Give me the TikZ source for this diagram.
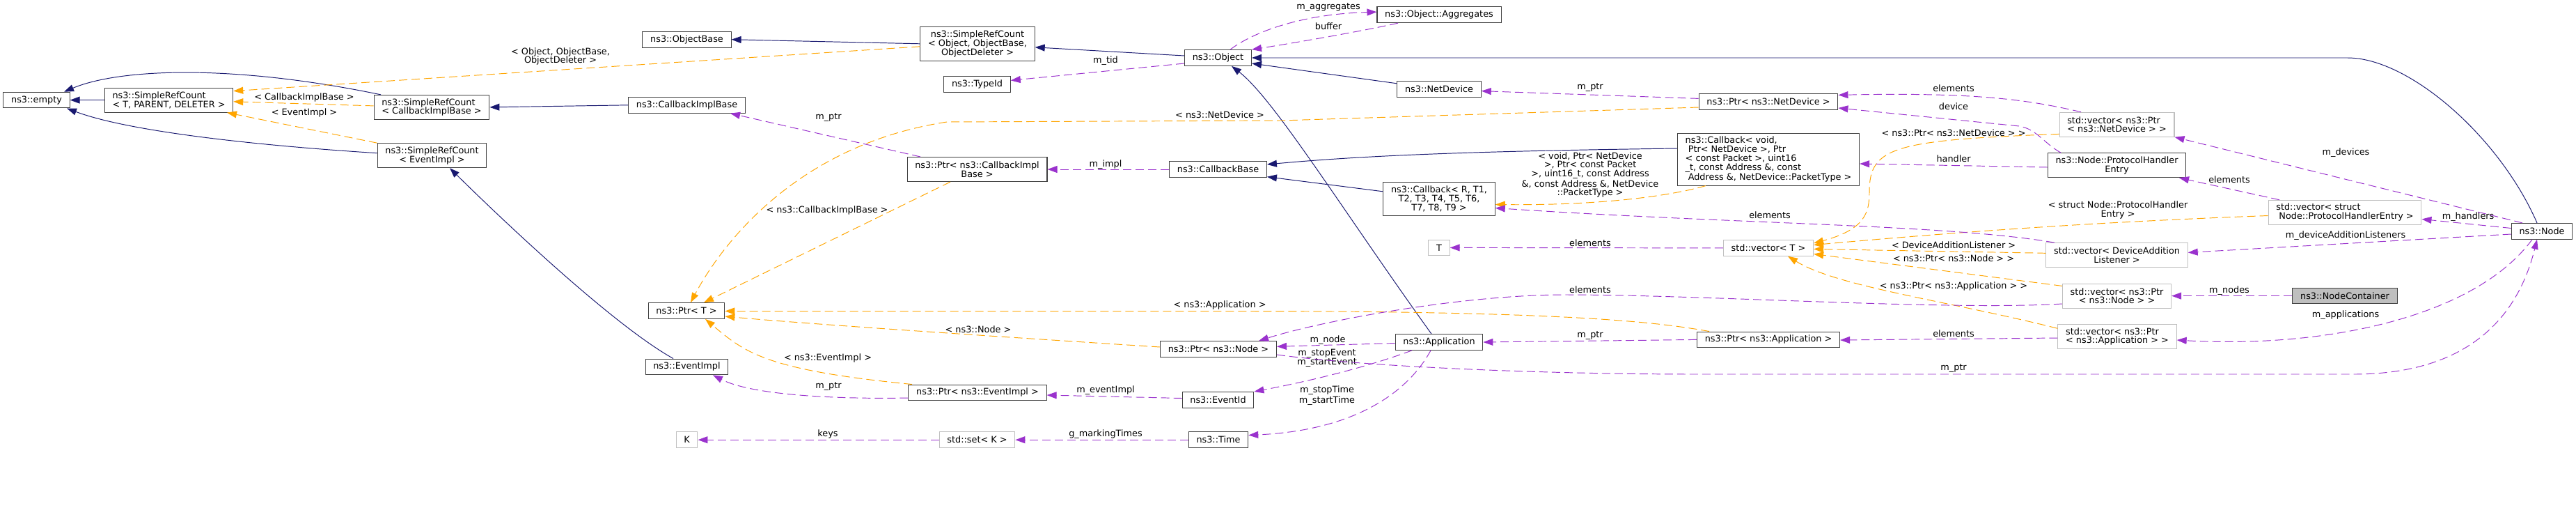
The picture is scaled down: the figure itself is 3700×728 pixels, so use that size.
\documentclass[tikz,border=0pt]{standalone}
\usepackage{fontspec}
\setmainfont{DejaVu Sans}
\usepackage{xcolor}
\usepackage{tikz}
\usetikzlibrary{arrows.meta}
\definecolor{inhblue}{HTML}{191970}
\definecolor{tplorange}{HTML}{FFA500}
\definecolor{usepurple}{HTML}{9A32CD}
\definecolor{boxgray}{HTML}{BFBFBF}
\definecolor{boxline}{HTML}{404040}
\newcommand{\dgfont}{\fontsize{7.3}{7.25}\selectfont}
\tikzset{
  klass/.style={rectangle, draw=boxline, fill=white, line width=0.6pt, font=\dgfont, inner xsep=6.4pt, inner ysep=1pt, minimum height=0.454cm, align=center},
  extklass/.style={klass, draw=boxgray},
  focus/.style={klass, fill=boxgray},
  two/.style={minimum height=0.70cm},
  three/.style={minimum height=0.97cm},
  five/.style={minimum height=1.49cm},
  edgelbl/.style={font=\dgfont, inner sep=0pt, align=center},
  inherit/.style={-{Triangle[length=0.28cm, width=0.2cm]}, draw=inhblue, line width=0.55pt},
  instance/.style={inherit, draw=tplorange, dash pattern=on 0.24cm off 0.12cm},
  member/.style={inherit, draw=usepurple, dash pattern=on 0.24cm off 0.12cm},
}
\begin{document}
\begin{tikzpicture}[x=0.02cm, y=-0.02cm]
\useasboundingbox (0,0) rectangle (3700,728);
\node[klass] (empty) at (52.5,143.6) {ns3::empty};
\node[klass, two, align=left] (srcTPD) at (242.5,143.6) {ns3::SimpleRefCount\\< T, PARENT, DELETER >};
\node[klass, two, align=left] (srcCBI) at (620,153.9) {ns3::SimpleRefCount\\< CallbackImplBase >};
\node[klass, two] (srcEI) at (620.5,223.2) {ns3::SimpleRefCount\\< EventImpl >};
\node[klass] (objbase) at (986.5,56.7) {ns3::ObjectBase};
\node[klass] (cbib) at (986.5,150.8) {ns3::CallbackImplBase};
\node[klass] (ptrT) at (986,446) {ns3::Ptr< T >};
\node[klass] (eventimpl) at (986.5,526.4) {ns3::EventImpl};
\node[extklass] (K) at (986.5,631.2) {K};
\node[klass, three] (srcObj) at (1404,62.8) {ns3::SimpleRefCount\\< Object, ObjectBase,\\ObjectDeleter >};
\node[klass] (typeid) at (1403.5,121) {ns3::TypeId};
\node[klass, two] (ptrCBI) at (1403.5,243) {ns3::Ptr< ns3::CallbackImpl\\Base >};
\node[klass] (ptrEI) at (1404,563.4) {ns3::Ptr< ns3::EventImpl >};
\node[extklass] (stdset) at (1403.5,631.2) {std::set< K >};
\node[klass] (object) at (1749.5,83) {ns3::Object};
\node[klass] (cbbase) at (1749.5,243) {ns3::CallbackBase};
\node[klass] (ptrNode) at (1750,501) {ns3::Ptr< ns3::Node >};
\node[klass] (eventid) at (1749.5,574) {ns3::EventId};
\node[klass] (time) at (1750,631.2) {ns3::Time};
\node[klass] (aggr) at (2067,21.3) {ns3::Object::Aggregates};
\node[klass] (netdev) at (2067,128) {ns3::NetDevice};
\node[klass, three] (cbR) at (2067,285.5) {ns3::Callback< R, T1,\\T2, T3, T4, T5, T6,\\T7, T8, T9 >};
\node[extklass] (T) at (2067,355.4) {T};
\node[klass] (app) at (2067,491) {ns3::Application};
\node[klass] (ptrND) at (2540,145.8) {ns3::Ptr< ns3::NetDevice >};
\node[klass, five, align=left] (cbVoid) at (2540,228.8) {ns3::Callback< void,\\\ Ptr< NetDevice >, Ptr\\< const Packet >, uint16\\\_t, const Address \&, const\\\ Address \&, NetDevice::PacketType >};
\node[extklass] (vecT) at (2540,355.9) {std::vector< T >};
\node[klass] (ptrApp) at (2540,487.4) {ns3::Ptr< ns3::Application >};
\node[extklass, two, align=left] (vecND) at (3040.5,178.7) {std::vector< ns3::Ptr\\< ns3::NetDevice > >};
\node[klass, two] (phe) at (3040.5,237.2) {ns3::Node::ProtocolHandler\\Entry};
\node[extklass, two] (vecDAL) at (3040.5,366.2) {std::vector< DeviceAddition\\Listener >};
\node[extklass, two] (vecNode) at (3040.5,424.6) {std::vector< ns3::Ptr\\< ns3::Node > >};
\node[extklass, two, align=left] (vecApp) at (3041,483) {std::vector< ns3::Ptr\\< ns3::Application > >};
\node[extklass, two, align=left] (vecPHE) at (3368,304.8) {std::vector< struct\\\ Node::ProtocolHandlerEntry >};
\node[klass] (node) at (3651,331.8) {ns3::Node};
\node[focus] (nodecont) at (3368,424.6) {ns3::NodeContainer};

\node[edgelbl] (lObj) at (805,81) {< Object, ObjectBase,\\ObjectDeleter >};
\node[edgelbl] (lCBI) at (437,139.7) {< CallbackImplBase >};
\node[edgelbl] (lEI) at (437,162) {< EventImpl >};
\node[edgelbl] (lPtrCBIB) at (1190,168) {m\_ptr};
\node[edgelbl] (lTplCBI) at (1188,301.7) {< ns3::CallbackImplBase >};
\node[edgelbl] (lTplEI) at (1189,514.3) {< ns3::EventImpl >};
\node[edgelbl] (lPtrEI) at (1190,554.8) {m\_ptr};
\node[edgelbl] (lKeys) at (1189,623) {keys};
\node[edgelbl] (lTid) at (1588,87) {m\_tid};
\node[edgelbl] (lTplND) at (1752,165) {< ns3::NetDevice >};
\node[edgelbl] (lImpl) at (1588,236) {m\_impl};
\node[edgelbl] (lTplApp) at (1752,438.4) {< ns3::Application >};
\node[edgelbl] (lTplNode) at (1405,472.3) {< ns3::Node >};
\node[edgelbl] (lEvImpl) at (1588,559.8) {m\_eventImpl};
\node[edgelbl] (lMark) at (1588,623) {g\_markingTimes};
\node[edgelbl] (lAggr) at (1908,10.1) {m\_aggregates};
\node[edgelbl] (lBuf) at (1908,37.5) {buffer};
\node[edgelbl] (lPtrND) at (2284,125.5) {m\_ptr};
\node[edgelbl] (lTplCB) at (2284,251) {< void, Ptr< NetDevice\\>, Ptr< const Packet\\>, uint16\_t, const Address\\\&, const Address \&, NetDevice\\::PacketType >};
\node[edgelbl] (lElT) at (2284,348.3) {elements};
\node[edgelbl] (lElNode) at (2284,416) {elements};
\node[edgelbl] (lPtrApp) at (2284,481.4) {m\_ptr};
\node[edgelbl] (lNode) at (1907,488) {m\_node};
\node[edgelbl] (lEvent) at (1906,513.8) {m\_stopEvent\\m\_startEvent};
\node[edgelbl] (lTime) at (1906,567.5) {m\_stopTime\\m\_startTime};
\node[edgelbl] (lElND) at (2806,126.5) {elements};
\node[edgelbl] (lDev) at (2806,152.5) {device};
\node[edgelbl] (lTplVecND) at (2806,190.5) {< ns3::Ptr< ns3::NetDevice > >};
\node[edgelbl] (lHandler) at (2806,228) {handler};
\node[edgelbl] (lTplPHE) at (3042,301.4) {< struct Node::ProtocolHandler\\Entry >};
\node[edgelbl] (lElCB) at (2542,309) {elements};
\node[edgelbl] (lTplDAL) at (2806,351.5) {< DeviceAdditionListener >};
\node[edgelbl] (lTplVecNode) at (2806,370.6) {< ns3::Ptr< ns3::Node > >};
\node[edgelbl] (lTplVecApp) at (2806,411.4) {< ns3::Ptr< ns3::Application > >};
\node[edgelbl] (lElApp) at (2806,479) {elements};
\node[edgelbl] (lPtrNode) at (2806,528.9) {m\_ptr};
\node[edgelbl] (lDevices) at (3369.5,219) {m\_devices};
\node[edgelbl] (lElPHE) at (3202,257.8) {elements};
\node[edgelbl] (lHandlers) at (3545,311.5) {m\_handlers};
\node[edgelbl] (lDAL) at (3369,338.4) {m\_deviceAdditionListeners};
\node[edgelbl] (lNodes) at (3202,417.3) {m\_nodes};
\node[edgelbl] (lApps) at (3369,452.6) {m\_applications};

\draw[inherit] (srcTPD.west) -- (empty.east);
\draw[inherit] (srcCBI.north -| 547,0) .. controls (330,91) and (170,99) .. (empty.north -| 92,0);
\draw[inherit] (srcEI.west |- 0,219.7) .. controls (350,207.5) and (180,187) .. (empty.south -| 96,0);
\draw[inherit] (cbib.west) -- (srcCBI.east);
\draw[inherit] (eventimpl.north -| 967,0) .. controls (880,466) and (720,314) .. (srcEI.south -| 646,0);
\draw[inherit] (srcObj.west) -- (objbase.east);
\draw[inherit] (object.west |- 0,80) -- (srcObj.east |- 0,67.8);
\draw[inherit] (node.north -| 3644,0) .. controls (3590,196) and (3460,83) .. (3372,83) -- (object.east);
\draw[inherit] (netdev.west |- 0,119.8) -- (object.east |- 0,91);
\draw[inherit] (app.north -| 2056,0) .. controls (1930,304) and (1830,142) .. (object.south -| 1769,0);
\draw[inherit] (cbVoid.west |- 0,213) .. controls (2100,217) and (1950,224) .. (cbbase.east |- 0,236);
\draw[inherit] (cbR.west |- 0,274.8) -- (cbbase.east |- 0,253.7);

\draw[instance] (srcObj.west |- 0,66.8) -- (srcTPD.east |- 0,130.6);
\draw[instance] (srcCBI.west |- 0,151.9) -- (srcTPD.east |- 0,145.8);
\draw[instance] (srcEI.north west) -- (srcTPD.south -| 326,0);
\draw[instance] (ptrND.west |- 0,154) -- (1840,173) -- (1360,175) .. controls (1150,207) and (1040,344) .. (ptrT.north -| 992,0);
\draw[instance] (ptrCBI.south -| 1365,0) -- (ptrT.north -| 1011,0);
\draw[instance] (ptrApp.north -| 2455,0) .. controls (2380,462) and (2250,447) .. (1800,446.5) -- (ptrT.east |- 0,446.5);
\draw[instance] (ptrNode.west |- 0,498) .. controls (1400,481) and (1150,464) .. (ptrT.east |- 0,454);
\draw[instance] (ptrEI.north -| 1310,0) .. controls (1100,531) and (1070,506) .. (ptrT.south -| 1013,0);
\draw[instance] (cbVoid.south -| 2450,0) .. controls (2400,281) and (2300,295) .. (cbR.east |- 0,293.5);
\draw[instance] (vecND.west |- 0,192.4) .. controls (2720,201) and (2685,211) .. (2685,275) .. controls (2685,304) and (2680,329) .. (vecT.east |- 0,349);
\draw[instance] (vecPHE.west |- 0,309.5) .. controls (3000,319) and (2800,334) .. (vecT.east |- 0,351.5);
\draw[instance] (vecDAL.west |- 0,363.3) -- (vecT.east |- 0,357.4);
\draw[instance] (vecNode.west |- 0,410.4) -- (vecT.east |- 0,364.5);
\draw[instance] (vecApp.west |- 0,471.3) .. controls (2800,432) and (2640,412) .. (vecT.south -| 2568,0);

\draw[member] (object.north -| 1767,0) .. controls (1800,46) and (1870,20) .. (aggr.west |- 0,17.2);
\draw[member] (aggr.south -| 2008,0) .. controls (1950,46) and (1850,63) .. (object.north east);
\draw[member] (object.west |- 0,91) -- (typeid.east |- 0,115.4);
\draw[member] (ptrND.west |- 0,141.4) -- (netdev.east |- 0,130.6);
\draw[member] (ptrCBI.north -| 1322,0) -- (cbib.south -| 1049,0);
\draw[member] (cbbase.west) -- (ptrCBI.east);
\draw[member] (ptrEI.west |- 0,571) .. controls (1200,573) and (1080,567) .. (eventimpl.south -| 1024,0);
\draw[member] (eventid.west |- 0,571.5) -- (ptrEI.east |- 0,567);
\draw[member] (app.south -| 2028,0) .. controls (1960,528) and (1880,547) .. (eventid.east |- 0,562);
\draw[member] (app.south -| 2055,0) .. controls (2020,567) and (1940,618) .. (time.east |- 0,624.5);
\draw[member] (time.west) -- (stdset.east);
\draw[member] (stdset.west) -- (K.east);
\draw[member] (app.west |- 0,492.5) -- (ptrNode.east |- 0,497.3);
\draw[member] (vecNode.west |- 0,436) .. controls (2800,446) and (2450,423) .. (2249,423) .. controls (2100,423) and (1900,460) .. (ptrNode.north -| 1808,0);
\draw[member] (ptrApp.west) -- (app.east);
\draw[member] (vecApp.west |- 0,485) -- (ptrApp.east |- 0,488);
\draw[member] (node.north -| 3623,0) -- (vecND.south east);
\draw[member] (vecND.north -| 2989,0) .. controls (2920,145) and (2850,132) .. (ptrND.east |- 0,136.4);
\draw[member] (phe.north -| 2960,0) .. controls (2935,205) and (2925,185) .. (2900,181) -- (ptrND.east |- 0,155);
\draw[member] (phe.west |- 0,240) -- (cbVoid.east |- 0,235);
\draw[member] (vecPHE.north -| 3274,0) -- (phe.south -| 3130,0);
\draw[member] (node.west |- 0,327.5) -- (vecPHE.east |- 0,314.5);
\draw[member] (node.west |- 0,336) -- (vecDAL.east |- 0,362.4);
\draw[member] (vecDAL.north -| 2951,0) .. controls (2800,322) and (2500,322) .. (cbR.east |- 0,298.5);
\draw[member] (vecT.west) -- (T.east);
\draw[member] (nodecont.west) -- (vecNode.east);
\draw[member] (node.south -| 3637,0) .. controls (3555,455) and (3340,500) .. (vecApp.east |- 0,488);
\draw[member] (ptrNode.east |- 0,509) .. controls (1950,525) and (2200,537) .. (2440,537) -- (3380,537) .. controls (3560,537) and (3620,440) .. (node.south -| 3644,0);
\end{tikzpicture}
\end{document}
